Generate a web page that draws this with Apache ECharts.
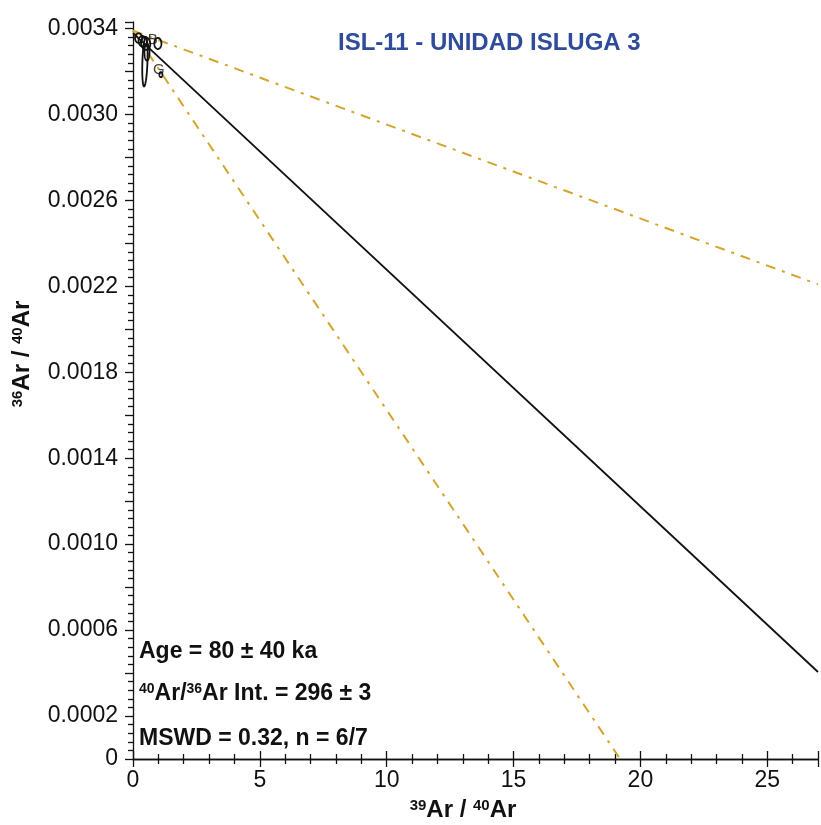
<!DOCTYPE html>
<html><head><meta charset="utf-8">
<script src="https://cdn.jsdelivr.net/npm/echarts@6/dist/echarts.min.js"></script>
<style>html,body{margin:0;padding:0;background:#fff}#c{width:821px;height:825px}</style>
</head><body><div id="c"></div>
<script>
// ---- data ----
const titleText = 'ISL-11 - UNIDAD ISLUGA 3';
const xTickLabels = [0, 5, 10, 15, 20, 25];
const yTickLabels = [0, 0.0002, 0.0006, 0.0010, 0.0014, 0.0018, 0.0022, 0.0026, 0.0030, 0.0034];
// isochron best fit (x, y) endpoints
const fitLine = [[0, 0.003378], [27, 0.000405]];
// error envelope lines
const envUpper = [[0, 0.00339], [27, 0.002209]];
const envLower = [[0, 0.00339], [19.2, 0.0]];
// error ellipses: [cx, cy, rx, ry, rotDeg]
const ellipses = [
  [0.22, 0.003355, 0.14, 0.000022, 0],
  [0.38, 0.003340, 0.16, 0.000025, -8],
  [0.50, 0.003330, 0.18, 0.000030, -10],
  [0.47, 0.003245, 0.10, 0.000115, 2],
  [0.55, 0.003290, 0.10, 0.000040, 0],
  [0.98, 0.003330, 0.14, 0.000026, 0],
  [1.10, 0.003185, 0.06, 0.000012, 0]
];
const pointLabels = [
  {name: 'B', x: 0.78, y: 0.003345},
  {name: 'G', x: 1.02, y: 0.003205}
];
const stats = ['Age = 80 ± 40 ka', '296 ± 3', 'MSWD = 0.32, n = 6/7'];

const gold = '#D4A52C';
const chart = echarts.init(document.getElementById('c'));
const F = '"Liberation Sans", Arial, sans-serif';
const nameRich = {
  s: {font: 'bold 15px ' + F, fill: '#111', verticalAlign: 'top', lineHeight: 16},
  b: {font: 'bold 24px ' + F, fill: '#111'}
};

chart.setOption({
  animation: false,
  backgroundColor: '#fff',
  grid: {left: 133, top: 22, right: 0, bottom: 66},
  xAxis: [{
    type: 'value', min: 0, max: 27, interval: 5,
    axisLine: {onZero: false, lineStyle: {color: '#111', width: 1.3}},
    axisTick: {length: 8, lineStyle: {color: '#111', width: 1.3}},
    minorTick: {show: true, splitNumber: 5, length: 5, lineStyle: {color: '#111', width: 1.3}},
    splitLine: {show: false},
    axisLabel: {margin: 10, fontFamily: F, fontSize: 23, color: '#111',
      formatter: v => xTickLabels.includes(v) ? String(v) : ''}
  }, {
    type: 'value', position: 'top', min: 0, max: 27, interval: 5,
    axisLine: {show: true, lineStyle: {color: '#111', width: 1.3}},
    axisTick: {length: 8, lineStyle: {color: '#111', width: 1.3}},
    minorTick: {show: true, splitNumber: 5, length: 5, lineStyle: {color: '#111', width: 1.3}},
    axisLabel: {show: false}, splitLine: {show: false}
  }],
  yAxis: {
    type: 'value', min: 0, max: 0.00343, interval: 0.0002,
    axisLine: {onZero: false, lineStyle: {color: '#111', width: 1.3}},
    axisTick: {length: 8, lineStyle: {color: '#111', width: 1.3}},
    minorTick: {show: true, splitNumber: 5, length: 5, lineStyle: {color: '#111', width: 1.3}},
    splitLine: {show: false},
    axisLabel: {margin: 15, fontFamily: F, fontSize: 23, color: '#111',
      formatter: v => {
        const m = yTickLabels.find(t => Math.abs(t - v) < 1e-9);
        if (m === undefined) return '';
        return m === 0 ? '0' : m.toFixed(4);
      }}
  },
  series: [
    {type: 'line', data: envUpper, symbol: 'none', lineStyle: {color: gold, width: 2, type: [10, 7, 3, 7]}, z: 2},
    {type: 'line', data: envLower, symbol: 'none', lineStyle: {color: gold, width: 2, type: [10, 7, 3, 7]}, z: 2},
    {type: 'line', data: fitLine, symbol: 'none', lineStyle: {color: '#111', width: 1.8}, z: 3},
    {
      type: 'custom', data: ellipses, z: 4, clip: false,
      renderItem: function (params, api) {
        const c = api.coord([api.value(0), api.value(1)]);
        const s = api.size([api.value(2), api.value(3)]);
        const rot = api.value(4) * Math.PI / 180;
        const pts = [];
        for (let i = 0; i <= 60; i++) {
          const t = i / 60 * Math.PI * 2;
          const ex = s[0] * Math.cos(t), ey = s[1] * Math.sin(t);
          pts.push([c[0] + ex * Math.cos(rot) - ey * Math.sin(rot), c[1] + ex * Math.sin(rot) + ey * Math.cos(rot)]);
        }
        return {type: 'polygon', shape: {points: pts}, style: {fill: 'none', stroke: '#111', lineWidth: 1.8}};
      }
    },
    {
      type: 'scatter', data: pointLabels.map(p => ({name: p.name, value: [p.x, p.y]})),
      symbolSize: 0, z: 5,
      label: {show: true, formatter: '{b}', position: 'inside', fontFamily: F, fontSize: 15, color: '#111'}
    }
  ],
  graphic: [
    {type: 'text', left: 338, top: 31, style: {text: titleText, font: 'bold 24px ' + F, fill: '#2F4C9B'}},
    {type: 'text', left: 139, top: 640, style: {text: stats[0], font: 'bold 23px ' + F, fill: '#111'}},
    {type: 'text', left: 139, top: 682, style: {
      text: '{s|40}{b|Ar/}{s|36}{b|Ar Int. = ' + stats[1] + '}',
      rich: {
        s: {font: 'bold 14px ' + F, fill: '#111', verticalAlign: 'top', lineHeight: 16},
        b: {font: 'bold 23px ' + F, fill: '#111'}
      }}},
    {type: 'text', left: 139, top: 727, style: {text: stats[2], font: 'bold 23px ' + F, fill: '#111'}},
    {type: 'text', x: 463, y: 810, style: {text: '{s|39}{b|Ar / }{s|40}{b|Ar}', rich: nameRich, align: 'center', verticalAlign: 'middle'}},
    {type: 'text', x: 22, y: 354, rotation: Math.PI / 2, style: {text: '{s|36}{b|Ar / }{s|40}{b|Ar}', rich: nameRich, align: 'center', verticalAlign: 'middle'}}
  ]
});
</script></body></html>
